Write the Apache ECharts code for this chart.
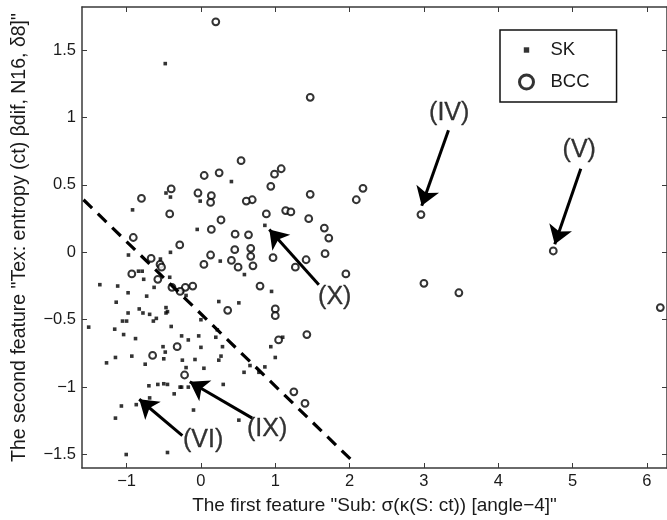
<!DOCTYPE html>
<html>
<head>
<meta charset="utf-8">
<script src="https://cdn.jsdelivr.net/npm/echarts@6/dist/echarts.min.js"></script>
<style>
html, body { margin: 0; padding: 0; background: #fff; }
#chart { width: 667px; height: 520px; }
</style>
</head>
<body>
<div id="chart"></div>
<script>
// values
var skPoints = [
    [-0.48, 1.40],
    [-0.47, 0.44], [-0.41, 0.41], [-0.92, 0.315], [-0.41, 0.0], [-0.975, -0.02], [-0.545, -0.05],
    [-0.84, -0.14], [-0.79, -0.14], [-0.77, -0.20], [-0.42, -0.185], [-0.63, -0.26], [-0.31, -0.28],
    [-1.36, -0.24], [-1.12, -0.25], [-0.98, -0.30], [-0.73, -0.325], [-1.14, -0.37],
    [-1.51, -0.555], [-1.16, -0.57], [-1.055, -0.51], [-1.00, -0.51], [-0.98, -0.45], [-0.83, -0.42],
    [-0.78, -0.45], [-0.69, -0.46], [-0.64, -0.51], [-0.60, -0.49], [-0.47, -0.41], [-0.47, -0.45],
    [-0.45, -0.44], [-0.40, -0.55], [-1.04, -0.61], [-0.88, -0.64], [-0.51, -0.70], [-0.48, -0.74],
    [-0.50, -0.79], [-0.93, -0.77], [-1.15, -0.78], [-1.27, -0.82], [-0.75, -0.83], [-0.70, -0.99],
    [-0.58, -0.98], [-0.50, -0.975], [-0.45, -0.98], [-0.36, -1.05], [-0.28, -1.00], [-0.69, -1.08],
    [-1.07, -1.14], [-0.87, -1.13], [-1.15, -1.23], [-1.005, -1.50], [-0.45, -1.485],
    [0.0, -0.50], [-0.26, -0.62], [-0.17, -0.65], [-0.03, -0.62], [0.0, -0.705], [0.20, -0.63],
    [0.29, -0.70], [-0.25, -0.80], [-0.08, -0.795], [0.04, -0.86], [0.24, -0.80], [0.27, -0.77],
    [-0.20, -0.855], [-0.26, -1.00], [-0.17, -1.00], [0.30, -0.98], [-0.10, -1.17], [0.51, -1.245],
    [0.66, -0.84], [0.86, -0.85], [0.58, -0.89], [0.78, -0.89], [0.94, -0.70], [1.0, -0.78], [1.10, -0.63],
    [0.41, 0.525], [-0.01, 0.38], [0.86, 0.20], [-0.05, 0.17], [0.26, -0.065], [0.585, -0.165],
    [0.95, -0.29], [-0.25, -0.29], [-0.20, -0.32], [0.24, -0.365], [0.51, -0.375], [0.22, -0.575]
];

var bccPoints = [
    [0.20, 1.71], [1.47, 1.15], [2.96, 0.28], [4.74, 0.01], [3.0, -0.23], [3.47, -0.30], [6.18, -0.41],
    [2.18, 0.475], [2.09, 0.39], [1.95, -0.16], [1.66, 0.18], [1.72, 0.106], [1.67, -0.01], [1.45, 0.25],
    [1.47, 0.43], [1.415, -0.055], [1.27, -0.11], [1.425, -0.61], [1.25, -1.035], [1.40, -1.12],
    [1.08, 0.62], [0.99, 0.58], [0.94, 0.49], [1.14, 0.31], [1.21, 0.30], [0.88, 0.285], [0.97, -0.04],
    [1.0, -0.42], [1.0, -0.47], [1.045, -0.65], [0.795, -0.25], [0.70, -0.10], [0.67, -0.03], [0.67, 0.03],
    [0.64, 0.13], [0.69, 0.39], [0.61, 0.38], [0.54, 0.68], [0.46, 0.135], [0.455, 0.02], [0.50, -0.11],
    [0.41, -0.06], [0.36, -0.43], [0.245, 0.59], [0.27, 0.24], [0.044, 0.57], [-0.04, 0.44], [0.14, 0.42],
    [0.13, 0.37], [0.14, 0.17], [0.13, -0.02], [0.04, -0.09], [-0.11, -0.25], [-0.21, -0.26],
    [-0.285, 0.055], [-0.39, -0.26], [-0.28, -0.29],
    [-0.40, 0.47], [-0.80, 0.40], [-0.42, 0.285], [-0.91, 0.11], [-0.67, -0.045], [-0.55, -0.09],
    [-0.53, -0.11], [-0.93, -0.16], [-0.58, -0.20], [-0.65, -0.765], [-0.32, -0.70], [-0.22, -0.91]
];

var dashLine = [[-1.58, 0.39], [2.06, -1.56]];

var noteNames = ['(IV)', '(V)', '(X)', '(IX)', '(VI)'];
var noteLabelAt = [[3.34, 1.035], [5.09, 0.76], [1.80, -0.33], [0.89, -1.31], [0.03, -1.39]];
var arrowTail = [[3.33, 0.905], [5.11, 0.62], [1.586, -0.24], [0.69, -1.23], [-0.25, -1.36]];
var arrowTip = [[2.97, 0.345], [4.76, 0.06], [0.92, 0.17], [-0.15, -0.96], [-0.83, -1.09]];

var xTicks = [-1, 0, 1, 2, 3, 4, 5, 6];
var yTicks = [-1.5, -1, -0.5, 0, 0.5, 1, 1.5];

var font = 'Liberation Sans';
var ink = '#1a1a1a';
var spine = '#3a3a3a';

function minusSign(v) {
    return String(v).replace('-', '\u2212');
}

var arrowLines = [];
for (var i = 0; i < arrowTail.length; i++) {
    arrowLines.push([{coord: arrowTail[i]}, {coord: arrowTip[i]}]);
}

var notes = [];
for (var j = 0; j < noteNames.length; j++) {
    notes.push({name: noteNames[j], value: noteLabelAt[j]});
}

function xAxisOf(pos, showText) {
    return {
        type: 'value',
        position: pos,
        min: -1.6,
        max: 6.27,
        name: showText ? 'The first feature "Sub: \u03c3(\u03ba(S: ct)) [angle\u22124]"' : '',
        nameLocation: 'middle',
        nameGap: 28,
        nameTextStyle: {fontSize: 19, color: ink, fontFamily: font},
        axisLine: {show: true, onZero: false, lineStyle: {color: spine, width: 1.5}},
        axisTick: {show: true, inside: true, length: 5, customValues: xTicks, lineStyle: {color: spine}},
        axisLabel: {show: showText, customValues: xTicks, formatter: minusSign,
            fontSize: 16.5, color: ink, fontFamily: font, margin: 5},
        splitLine: {show: false}
    };
}

function yAxisOf(pos, showText) {
    return {
        type: 'value',
        position: pos,
        min: -1.6,
        max: 1.82,
        name: showText ? 'The second feature "Tex: entropy (ct) \u03b2dif, N16, \u03b48]"' : '',
        nameLocation: 'middle',
        nameGap: 52,
        nameTextStyle: {fontSize: 19.5, color: ink, fontFamily: font},
        axisLine: {show: true, onZero: false, lineStyle: {color: spine, width: 1.5}},
        axisTick: {show: true, inside: true, length: 5, customValues: yTicks, lineStyle: {color: spine}},
        axisLabel: {show: showText, customValues: yTicks, formatter: minusSign,
            fontSize: 16.5, color: ink, fontFamily: font, margin: 6},
        splitLine: {show: false}
    };
}

var myChart = echarts.init(document.getElementById('chart'));

var option = {
    backgroundColor: '#fff',
    animation: false,
    grid: {left: 82, right: -1, top: 7, bottom: 50},
    legend: {
        orient: 'vertical',
        left: 500,
        top: 30,
        padding: [10, 27, 10, 18],
        itemGap: 12,
        itemWidth: 38,
        itemHeight: 14,
        borderColor: '#111',
        borderWidth: 1.5,
        selectedMode: false,
        textStyle: {fontSize: 18.5, color: ink, fontFamily: font, lineHeight: 20},
        data: [
            {name: 'SK', icon: 'path://M0,0M16,16M4.9,4.9h6.2v6.2h-6.2z',
                itemStyle: {color: '#000', borderWidth: 0}},
            {name: 'BCC', icon: 'circle',
                itemStyle: {color: '#fff', borderColor: '#000', borderWidth: 3}}
        ]
    },
    xAxis: [xAxisOf('bottom', true), xAxisOf('top', false)],
    yAxis: [yAxisOf('left', true), yAxisOf('right', false)],
    series: [
        {
            name: 'SK',
            type: 'scatter',
            symbol: 'rect',
            symbolSize: 3.6,
            itemStyle: {color: '#000', borderWidth: 0},
            data: skPoints
        },
        {
            name: 'BCC',
            type: 'scatter',
            symbol: 'emptyCircle',
            symbolSize: 6.8,
            itemStyle: {color: '#000', borderWidth: 2},
            data: bccPoints
        },
        {
            name: 'boundary',
            type: 'line',
            symbol: 'none',
            silent: true,
            lineStyle: {color: '#000', width: 3.2, type: [12, 8]},
            data: dashLine,
            markLine: {
                silent: true,
                symbol: ['none', 'arrow'],
                symbolSize: 18,
                label: {show: false},
                lineStyle: {color: '#000', width: 3, type: 'solid'},
                data: arrowLines
            }
        },
        {
            name: 'notes',
            type: 'scatter',
            symbolSize: 0,
            silent: true,
            label: {
                show: true,
                position: 'inside',
                formatter: '{b}',
                fontSize: 25,
                color: '#000',
                textBorderColor: '#000',
                textBorderWidth: 0.3,
                fontFamily: font
            },
            data: notes
        }
    ]
};

myChart.setOption(option);
</script>
</body>
</html>
